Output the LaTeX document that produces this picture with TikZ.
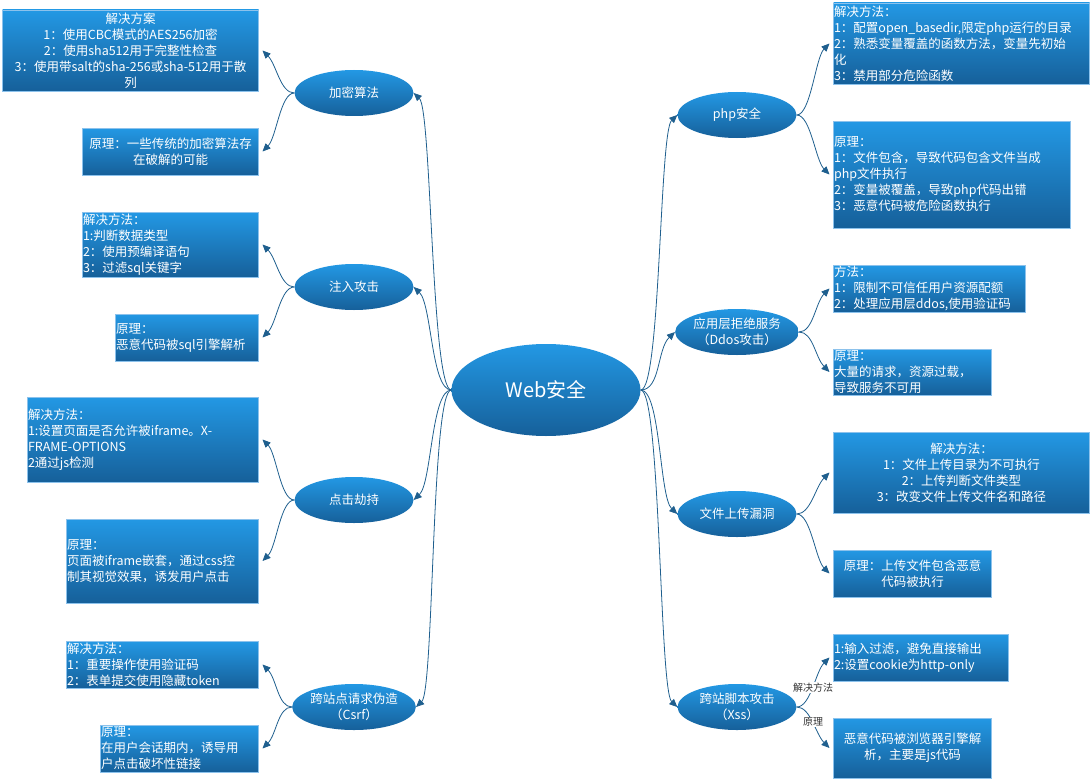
\documentclass[tikz,border=0pt]{standalone}
\usepackage{fontspec}
\setmainfont{Noto Sans CJK SC}
\usetikzlibrary{arrows.meta,calc,shapes.geometric}
\definecolor{skytop}{HTML}{2398E4}
\definecolor{skybot}{HTML}{16609A}
\definecolor{rim}{HTML}{8CC2EC}
\definecolor{linkblue}{HTML}{1F5F8E}
\definecolor{ink}{HTML}{333333}

\begin{document}
\begin{tikzpicture}[x=1pt,y=-1pt,
  topic/.style={ellipse,top color=skytop,bottom color=skybot,text=white,
    minimum width=119pt,minimum height=46pt,inner sep=0pt,align=center,
    font=\fontsize{12.5}{16}\selectfont},
  card/.style 2 args={rectangle,top color=skytop,bottom color=skybot,draw=rim,line width=0.6pt,
    text=white,inner xsep=0.5pt,inner ysep=0pt,outer sep=4pt,align=left,
    text width=#1pt,minimum height=#2pt,font=\fontsize{12.5}{16}\selectfont},
  link/.style={draw=linkblue,line width=0.8pt,-{Triangle[length=8pt,width=7pt]}},
  tag/.style={fill=white,text=ink,inner sep=0.5pt,font=\fontsize{10}{12}\selectfont}]
  \useasboundingbox (0,0) rectangle (1091,781);

  % centre and topics
  \node[topic,minimum width=189pt,minimum height=92pt,font=\fontsize{20}{24}\selectfont] (web) at (546,390) {Web安全};
  \node[topic] (enc)   at (354,93)  {加密算法};
  \node[topic] (inj)   at (354,287) {注入攻击};
  \node[topic] (click) at (354,500) {点击劫持};
  \node[topic] (csrf)  at (354,707) {跨站点请求伪造\\（Csrf）};
  \node[topic] (php)   at (737,115) {php安全};
  \node[topic] (ddos)  at (737,332) {应用层拒绝服务\\（Ddos攻击）};
  \node[topic] (up)    at (737,514) {文件上传漏洞};
  \node[topic] (xss)   at (737,707) {跨站脚本攻击\\（Xss）};

  % left cards
  \node[card={255}{81},align=center] (encsol) at (130.5,50.5) {解决方案\\1：使用CBC模式的AES256加密\\2：使用sha512用于完整性检查\\3：使用带salt的sha-256或sha-512用于散\\列};
  \node[card={175}{47},align=center] (encwhy) at (170.5,151.5) {原理：一些传统的加密算法存\\在破解的可能};
  \node[card={175}{65}] (injsol) at (170.5,244.5) {解决方法：\\1:判断数据类型\\2：使用预编译语句\\3：过滤sql关键字};
  \node[card={142}{47}] (injwhy) at (187,337.5) {原理：\\恶意代码被sql引擎解析};
  \node[card={230}{85}] (clicksol) at (143,439.5) {解决方法：\\1:设置页面是否允许被iframe。X-\\FRAME-OPTIONS\\2通过js检测};
  \node[card={191}{84}] (clickwhy) at (162.5,561) {原理：\\页面被iframe嵌套，通过css控\\制其视觉效果，诱发用户点击};
  \node[card={191}{47}] (csrfsol) at (162.5,664.5) {解决方法：\\1：重要操作使用验证码\\2：表单提交使用隐藏token};
  \node[card={157}{47}] (csrfwhy) at (179.5,748.5) {原理：\\在用户会话期内，诱导用\\户点击破坏性链接};

  % right cards
  \node[card={255}{81}] (phpsol) at (961.5,43.5) {解决方法：\\1：配置open\_basedir,限定php运行的目录\\2：熟悉变量覆盖的函数方法，变量先初始\\化\\3：禁用部分危险函数};
  \node[card={236}{107}] (phpwhy) at (952,174.5) {原理：\\1：文件包含，导致代码包含文件当成\\php文件执行\\2：变量被覆盖，导致php代码出错\\3：恶意代码被危险函数执行};
  \node[card={191}{47}] (ddossol) at (929.5,288.5) {方法：\\1：限制不可信任用户资源配额\\2：处理应用层ddos,使用验证码};
  \node[card={157}{46}] (ddoswhy) at (912.5,372) {原理：\\大量的请求，资源过载，\\导致服务不可用};
  \node[card={255}{81},align=center] (upsol) at (961.5,472.5) {解决方法：\\1：文件上传目录为不可执行\\2：上传判断文件类型\\3：改变文件上传文件名和路径};
  \node[card={157}{47},align=center] (upwhy) at (912.5,573.5) {原理：上传文件包含恶意\\代码被执行};
  \node[card={174}{47}] (xsssol) at (921,657.5) {1:输入过滤，避免直接输出\\2:设置cookie为http-only};
  \node[card={157}{60},align=center] (xsswhy) at (912.5,748) {恶意代码被浏览器引擎解\\析，主要是js代码};

  % centre to topics
  \foreach \b/\s in {enc/1,inj/1,click/-1,csrf/-1}
    \draw[link] (web.west) .. controls +(-20,0) and ($(\b.east)+(18,17*\s)$) .. (\b.east);
  \foreach \b/\s in {php/1,ddos/1,up/-1,xss/-1}
    \draw[link] (web.east) .. controls +(20,0) and ($(\b.west)+(-18,17*\s)$) .. (\b.west);

  % topics to cards
  \foreach \a/\b/\s in {enc/encsol/1,enc/encwhy/-1,inj/injsol/1,inj/injwhy/-1,
                        click/clicksol/1,click/clickwhy/-1,csrf/csrfsol/1,csrf/csrfwhy/-1}
    \draw[link] (\a.west) .. controls +(-14,0) and ($(\b.east)+(14,14*\s)$) .. (\b.east);
  \foreach \a/\b/\s in {php/phpsol/1,php/phpwhy/-1,ddos/ddossol/1,ddos/ddoswhy/-1,
                        up/upsol/1,up/upwhy/-1}
    \draw[link] (\a.east) .. controls +(14,0) and ($(\b.west)+(-14,14*\s)$) .. (\b.west);
  \draw[link] (xss.east) .. controls +(14,0) and ($(xsssol.west)+(-14,14)$) .. node[tag] {解决方法} (xsssol.west);
  \draw[link] (xss.east) .. controls +(14,0) and ($(xsswhy.west)+(-14,-14)$) .. node[tag] {原理} (xsswhy.west);
\end{tikzpicture}
\end{document}
